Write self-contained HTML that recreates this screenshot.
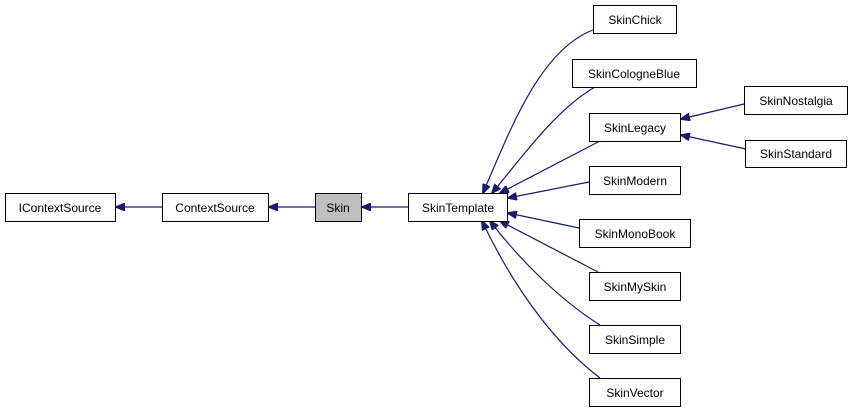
<!DOCTYPE html>
<html><head><style>body{margin:0;background:#fff}</style></head><body>
<svg width="853" height="413" xmlns="http://www.w3.org/2000/svg" font-family="Liberation Sans, sans-serif" font-size="12">
<defs><marker id="a" markerWidth="10" markerHeight="8" refX="9" refY="4" orient="auto" markerUnits="userSpaceOnUse"><path d="M0,0 L10,4 L0,8 z" fill="#191970" stroke="#191970"/></marker></defs>
<g fill="none" stroke="#191970" stroke-width="1.2" marker-end="url(#a)">
<path d="M162,207 L116,207"/>
<path d="M315,207 L269,207"/>
<path d="M408,207 L362,207"/>
<path d="M593,30 C540,50 510,130 483,193"/>
<path d="M595,87 C555,110 520,160 492,193"/>
<path d="M600,141 L500,193"/>
<path d="M589,182 L508,198"/>
<path d="M579,228 L508,213"/>
<path d="M598,272 L500,221"/>
<path d="M600,325 C560,300 520,260 490,221"/>
<path d="M600,378 C550,340 510,280 482,221"/>
<path d="M744,104 L681,119"/>
<path d="M746,149 L681,135"/>
</g>
<g stroke="#000" stroke-width="1" fill="#fff">
<rect x="5.5" y="193.5" width="110" height="28"/>
<rect x="162.5" y="193.5" width="106" height="28"/>
<rect x="315.5" y="193.5" width="46" height="28" fill="#bfbfbf"/>
<rect x="408.5" y="193.5" width="99" height="28"/>
<rect x="593.5" y="5.5" width="83" height="28"/>
<rect x="572.5" y="59.5" width="124" height="28"/>
<rect x="589.5" y="113.5" width="91" height="28"/>
<rect x="744.5" y="86.5" width="103" height="28"/>
<rect x="745.5" y="140.5" width="101" height="27"/>
<rect x="589.5" y="166.5" width="91" height="28"/>
<rect x="579.5" y="219.5" width="111" height="28"/>
<rect x="589.5" y="272.5" width="91" height="28"/>
<rect x="589.5" y="325.5" width="91" height="28"/>
<rect x="589.5" y="378.5" width="91" height="28"/>
</g>
<g text-anchor="middle" fill="#000">
<text x="60" y="212">IContextSource</text>
<text x="215" y="212">ContextSource</text>
<text x="338" y="212">Skin</text>
<text x="458" y="212">SkinTemplate</text>
<text x="635" y="24">SkinChick</text>
<text x="634" y="78">SkinCologneBlue</text>
<text x="635" y="132">SkinLegacy</text>
<text x="796" y="105">SkinNostalgia</text>
<text x="796" y="158">SkinStandard</text>
<text x="635" y="185">SkinModern</text>
<text x="635" y="238">SkinMonoBook</text>
<text x="635" y="291">SkinMySkin</text>
<text x="635" y="344">SkinSimple</text>
<text x="635" y="397">SkinVector</text>
</g>
</svg>
</body></html>
